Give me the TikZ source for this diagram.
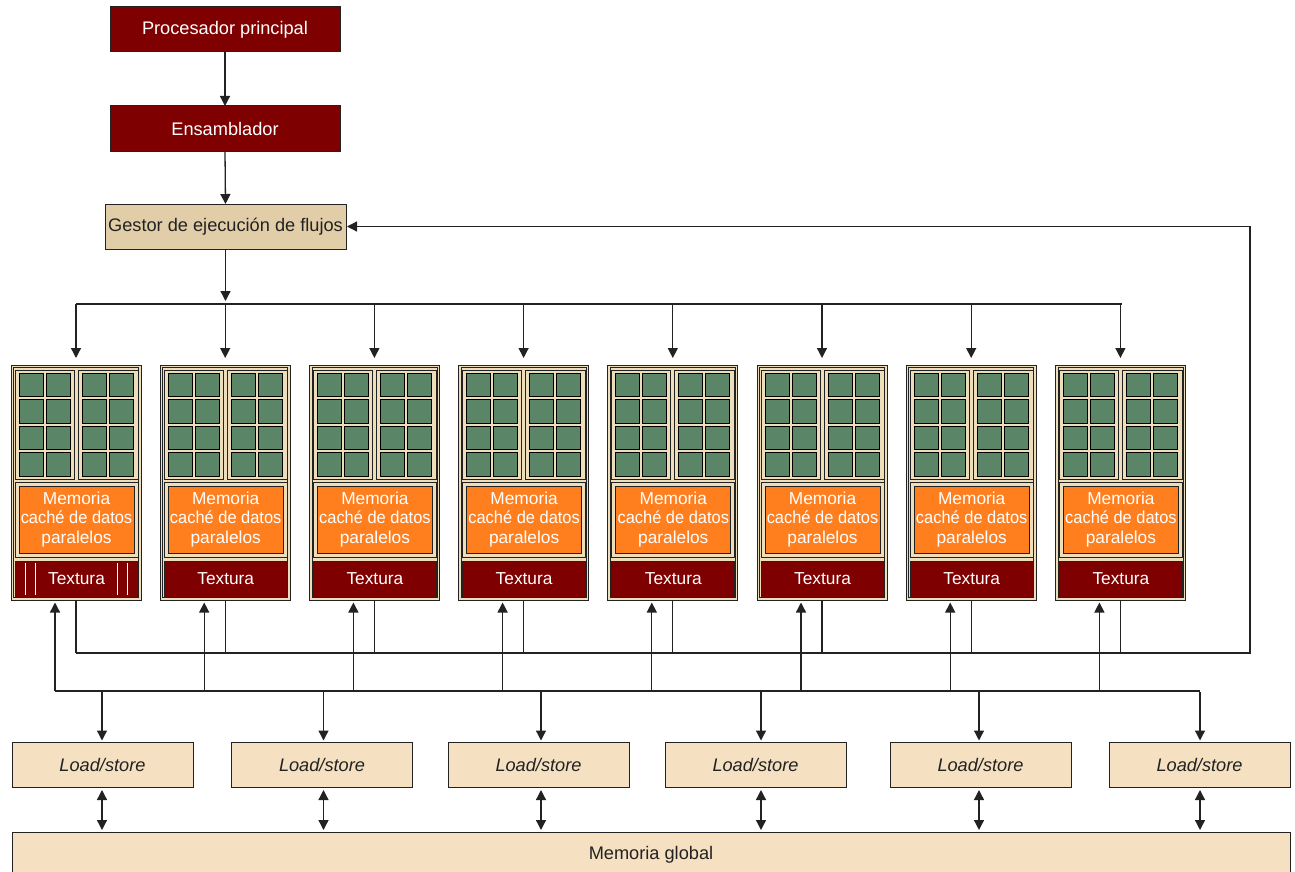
\documentclass[tikz,border=0pt]{standalone}
\usepackage{fontspec}
\setmainfont{Liberation Sans}
\usetikzlibrary{arrows.meta,calc}
\definecolor{dred}{HTML}{7F0000}
\definecolor{gestorfill}{HTML}{E1CDA8}
\definecolor{lsfill}{HTML}{F5E1C2}
\definecolor{frame}{HTML}{EEDDBB}
\definecolor{cellgreen}{HTML}{5A8566}
\definecolor{cacheorange}{HTML}{FF7F1F}
\definecolor{ln}{HTML}{222222}
\begin{document}
\begin{tikzpicture}[x=1pt,y=-1pt,
  every node/.style={inner sep=0pt,outer sep=0pt},
  bigfont/.style={font=\fontsize{18.2}{21}\selectfont},
  redbox/.style={draw=ln,line width=1pt,fill=dred,text=white,bigfont,minimum width=230pt,minimum height=45pt},
  tanbox/.style={draw=ln,line width=1pt,fill=gestorfill,text=ln,bigfont,minimum height=45pt},
  lsbox/.style={draw=ln,line width=1pt,fill=lsfill,text=ln,font=\fontsize{18.2}{21}\selectfont\itshape,minimum width=181pt,minimum height=45pt},
  clusterbox/.style={draw=ln,line width=1pt,fill=frame,minimum width=130pt,minimum height=235pt},
  conn/.style={draw=ln,line width=1.3pt},
  arr/.style={conn,-{Triangle[length=10pt,width=10pt]}},
  darr/.style={conn,{Triangle[length=10pt,width=10pt]}-{Triangle[length=10pt,width=10pt]}},
  cell/.style={draw=black,line width=1pt,fill=cellgreen},
  cachebox/.style={draw=ln,line width=1pt,fill=cacheorange,text=white,align=center,font=\fontsize{17.3}{20}\selectfont},
  texbox/.style={draw=ln,line width=1pt,fill=dred,text=white,font=\fontsize{17.3}{20}\selectfont}
]
\useasboundingbox (0,0) rectangle (1295,872);

% top chain
\node[redbox] (proc) at (225,29.5) {Procesador principal};
\node[redbox] (ens) at (225,128.5) {Ensamblador};
\node[tanbox,minimum width=241pt] (gest) at (225.5,226.5) {Gestor de ejecución de flujos};

\draw[arr] (proc.south) -- (ens.north);
\draw[arr] (ens.south) -- (gest.north);

\coordinate (busL) at (76,304);
\coordinate (busR) at (1121.5,304);
\draw[conn] (busL) -- (busR);
\draw[arr,shorten >=3pt] (gest.south) -- (gest.south |- busL);

\coordinate (fbL) at (76,653);
\coordinate (fbR) at (1250,653);
\coordinate (fbT) at (1250,226.5);
\coordinate (b2L) at (55,691);
\coordinate (b2R) at (1200,691);

% clusters
\foreach \i in {0,...,7}{
  \pgfmathsetmacro{\xo}{11+149.2*\i}
  \node[clusterbox] (c\i) at (\xo+65,482.5) {};
  \draw[ln,line width=0.8pt] (\xo+2.5,367.5) rectangle (\xo+127.5,597.5);
  \draw[ln,line width=1pt,fill=frame] (\xo+4,370) rectangle (\xo+63,479);
  \draw[ln,line width=1pt,fill=frame] (\xo+67,370) rectangle (\xo+127,479);
  \foreach \cx in {8,35,71,98}{
    \foreach \ry in {373,399.5,426,452.5}{
      \draw[cell] (\xo+\cx,\ry) rectangle ++(24,23.5);
    }
  }
  \draw[ln,line width=1pt,fill=frame] (\xo+4,482) rectangle (\xo+127,557);
  \node[cachebox,minimum width=115pt,minimum height=67pt] (m\i) at (\xo+65.5,519.5) {Memoria\\[-0.5pt]\scalebox{0.95}[1]{caché de datos}\\[-0.5pt]paralelos};
  \node[texbox,minimum width=123pt,minimum height=36pt] (t\i) at (\xo+65.5,579) {Textura};
  \draw[arr,shorten >=7pt] (c\i.north |- busL) -- (c\i.north);
  \draw[conn] (c\i.south) -- (c\i.south |- fbL);
  \coordinate (u\i) at ($(c\i.south)+(-21,0)$);
  \draw[arr,shorten >=2.5pt] (u\i |- b2L) -- (u\i);
}
% white lines in first Textura
\foreach \lx in {25,35,117,127}{
  \draw[white,line width=1pt] (\lx,563) -- (\lx,595);
}

% feedback route
\draw[arr,shorten >=1pt] (fbL) -- (fbR) -- (fbT) -- (gest.east);

% lower bus
\draw[conn] (b2L) -- (b2R);

% load/store
\node[lsbox] (ls1) at (102.5,764.5) {Load/store};
\node[lsbox] (ls2) at (322,764.5) {Load/store};
\node[lsbox] (ls3) at (538.5,764.5) {Load/store};
\node[lsbox] (ls4) at (755.5,764.5) {Load/store};
\node[lsbox] (ls5) at (980.5,764.5) {Load/store};
\node[lsbox] (ls6) at (1199.5,764.5) {Load/store};

% global memory
\node[fill=lsfill,minimum width=1278pt,minimum height=40pt] (gm) at (651,852) {};
\node[bigfont,text=ln] (gmt) at (651,855) {Memoria global};
\draw[ln,line width=1pt] (gm.south west) -- (gm.north west) -- (gm.north east) -- (gm.south east);

\foreach \k/\ax in {1/102,2/323.5,3/541,4/761,5/979,6/1200}{
  \draw[arr,shorten >=1.5pt] (ls\k.north -| \ax,0) ++(0,-50) -- (ls\k.north -| \ax,0);
  \draw[darr,shorten <=3pt,shorten >=2pt] (ls\k.south -| \ax,0) -- (gm.north -| \ax,0);
}
\end{tikzpicture}
\end{document}
